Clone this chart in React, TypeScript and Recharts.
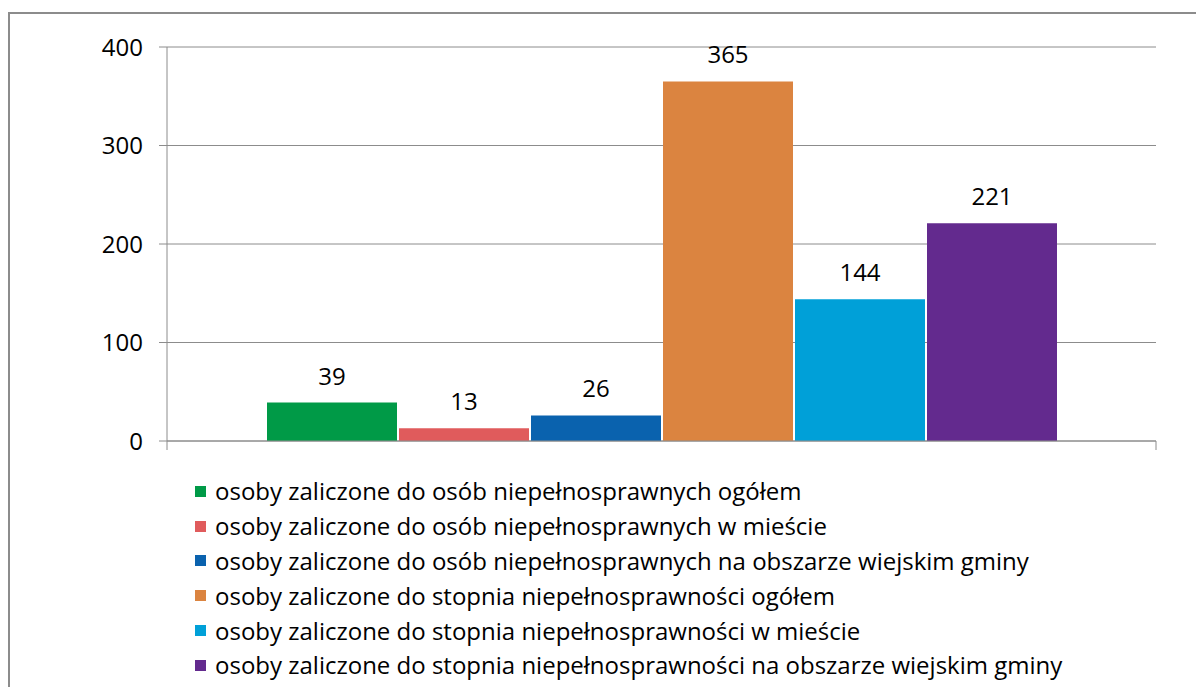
import React from "react";
import {
  BarChart,
  Bar,
  XAxis,
  YAxis,
  CartesianGrid,
  LabelList,
} from "recharts";

// single category, six series
const seriesNames = [
  "osoby zaliczone do osób niepełnosprawnych ogółem",
  "osoby zaliczone do osób niepełnosprawnych w mieście",
  "osoby zaliczone do osób niepełnosprawnych na obszarze wiejskim gminy",
  "osoby zaliczone do stopnia niepełnosprawności ogółem",
  "osoby zaliczone do stopnia niepełnosprawności w mieście",
  "osoby zaliczone do stopnia niepełnosprawności na obszarze wiejskim gminy",
];
const seriesValues = [39, 13, 26, 365, 144, 221];
const seriesColors = ["#009A47", "#E05B5C", "#0A62AE", "#DB8440", "#00A0D8", "#632A8E"];
const yTicks = [0, 100, 200, 300, 400];

const seriesKeys = seriesNames.map((_, i) => `s${i}`);
const row: Record<string, number | string> = { name: "" };
seriesKeys.forEach((k, i) => {
  row[k] = seriesValues[i];
});
const data = [row];

const W = 1196;
const H = 679;
const CHART_H = 450;
const MARGIN = { top: 39, right: 48, left: 0, bottom: 7 };
const Y_AXIS_W = 159;
const PLOT_W = W - MARGIN.left - Y_AXIS_W - MARGIN.right;
const FONT = "'Open Sans', sans-serif";
const GRAY = "#8c8c8c";

// tick marks at the category band edges, like the original
function BandEdgeTick(props: any) {
  const { x, y } = props;
  return (
    <g>
      <line x1={x - PLOT_W / 2} y1={y - 8} x2={x - PLOT_W / 2} y2={y + 1} stroke={GRAY} />
      <line x1={x + PLOT_W / 2} y1={y - 8} x2={x + PLOT_W / 2} y2={y + 1} stroke={GRAY} />
    </g>
  );
}

function LegendList() {
  return (
    <div style={{ fontFamily: FONT, fontSize: 24, color: "#000", lineHeight: 1 }}>
      {seriesNames.map((name, i) => (
        <div key={name} style={{ display: "flex", alignItems: "center", height: 34.8 }}>
          <span
            style={{
              display: "inline-block",
              width: 11,
              height: 11,
              background: seriesColors[i],
              marginRight: 9,
            }}
          />
          <span>{name}</span>
        </div>
      ))}
    </div>
  );
}

export default function App() {
  return (
    <div style={{ position: "relative", width: W, height: H, overflow: "hidden" }}>
      <div
        style={{
          position: "absolute",
          left: 0,
          top: 4,
          width: W + 10,
          height: H,
          borderTop: `2px solid ${GRAY}`,
          borderLeft: `2px solid ${GRAY}`,
        }}
      />
      <div style={{ position: "absolute", left: 0, top: 0 }}>
        <BarChart
          width={W}
          height={CHART_H}
          data={data}
          margin={MARGIN}
          barCategoryGap={100}
          barGap={2}
        >
          <CartesianGrid horizontal vertical={false} stroke={GRAY} />
          <XAxis
            dataKey="name"
            axisLine={{ stroke: GRAY }}
            tickLine={false}
            tick={<BandEdgeTick />}
            height={10}
          />
          <YAxis
            domain={[0, 400]}
            ticks={yTicks}
            width={Y_AXIS_W}
            axisLine={{ stroke: GRAY }}
            tickLine={{ stroke: GRAY }}
            tickSize={8}
            tickMargin={16}
            tick={{ fill: "#000", fontSize: 24, fontFamily: FONT }}
            interval={0}
          />
          {seriesKeys.map((k, i) => (
            <Bar key={k} dataKey={k} name={seriesNames[i]} fill={seriesColors[i]} isAnimationActive={false}>
              <LabelList
                dataKey={k}
                position="top"
                offset={18}
                style={{ fill: "#000", fontSize: 24, fontFamily: FONT }}
              />
            </Bar>
          ))}
        </BarChart>
      </div>
      <div style={{ position: "absolute", left: 187, top: 466 }}>
        <LegendList />
      </div>
    </div>
  );
}
